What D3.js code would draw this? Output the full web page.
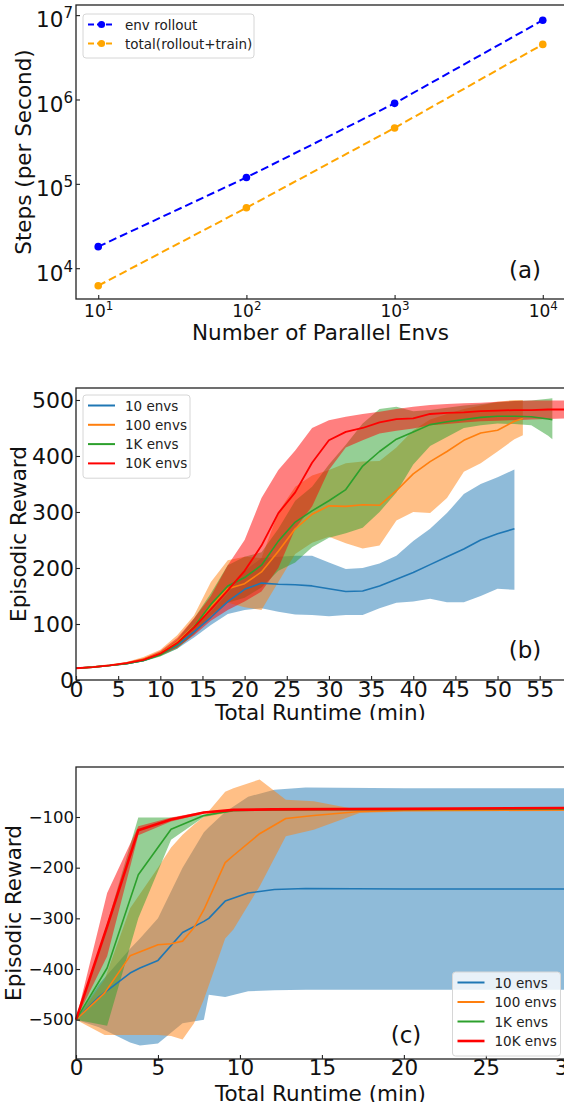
<!DOCTYPE html>
<html>
<head>
<meta charset="utf-8">
<script src="https://cdn.jsdelivr.net/npm/d3@7"></script>
<style>
  body { margin: 0; background: #fff; overflow: hidden; }
  svg { display: block; font-family: "DejaVu Sans", sans-serif; }
</style>
</head>
<body>
<div id="wrapper"></div>
<script>
// ---- data ----
// (a) throughput vs number of envs
const envCounts = [10, 100, 1000, 10000]
const rolloutSps = [1.8e4, 1.19e5, 9.0e5, 8.7e6]
const totalSps = [6.2e3, 5.2e4, 4.6e5, 4.5e6]
const aTicks = [1e1, 1e2, 1e3, 1e4]
const aYTicks = [1e4, 1e5, 1e6, 1e7]

const seriesNames = ["10 envs", "100 envs", "1K envs", "10K envs"]
const seriesColors = ["#1f77b4", "#ff7f0e", "#2ca02c", "#ff0000"]

// (b) rows: [minutes, mean, lower, upper]
const b10 = [
  [0,21,20,22],[2,23,22,24],[4,26,25,27],[6,29,28,31],[8,35,33,38],[10,46,43,50],
  [12,62,56,68],[14,86,76,95],[16,112,98,122],[18,140,118,155],[20,162,125,195],
  [22,173,128,218],[24,171,122,220],[26,170,117,222],[28,168,116,222],[30,163,114,210],
  [32,158,116,198],[34,159,116,200],[36,168,128,208],[38,180,138,222],[40,192,140,248],
  [42,206,145,270],[44,220,139,298],[46,234,139,332],[48,250,150,350],[50,261,163,362],
  [52,270,161,376]
]
const b100 = [
  [0,21,20,22],[2,23,22,25],[4,26,25,28],[6,30,28,32],[8,37,34,41],[10,48,43,54],
  [12,68,58,80],[14,96,82,115],[16,132,110,175],[18,163,138,214],[20,172,130,220],
  [22,193,125,218],[24,230,175,300],[26,270,225,345],[28,296,245,365],[30,311,256,375],
  [32,310,244,387],[34,313,235,390],[36,312,240,391],[38,338,285,415],[40,368,300,446],
  [42,390,298,465],[44,408,325,475],[46,428,372,484],[48,441,387,490],[50,446,408,497],
  [52,462,430,500],[53,467,437,500]
]
const b1k = [
  [0,21,20,22],[2,23,22,24],[4,26,25,27],[6,29,28,31],[8,35,33,38],[10,45,42,50],
  [12,64,56,72],[14,95,82,110],[16,135,115,155],[18,168,138,205],[20,183,147,220],
  [22,205,165,228],[24,248,195,270],[26,282,210,320],[28,302,237,345],[30,320,254,385],
  [32,340,262,420],[34,382,272,458],[36,408,300,484],[38,430,335,488],[40,443,385,480],
  [42,456,418,482],[44,461,434,486],[46,465,450,490],[48,469,455,493],[50,471,458,496],
  [52,471,457,498],[54,470,455,499],[56,466,436,502],[56.5,465,430,503]
]
const b10k = [
  [0,21,20,22],[2,23,22,24],[4,26,25,27],[6,30,28,32],[8,36,34,39],[10,47,44,52],
  [12,66,58,75],[14,94,80,110],[16,126,106,150],[18,160,125,205],[20,195,140,250],
  [22,240,158,325],[24,298,200,375],[26,335,270,410],[28,388,310,450],[30,428,375,464],
  [32,443,415,470],[34,450,428,475],[36,460,440,479],[38,466,445,484],[40,467,449,488],
  [42,475,455,491],[44,477,457,493],[46,478,460,494],[48,480,462,495],[50,481,463,497],
  [52,482,464,498],[54,482,465,499],[56,483,466,499],[58,483,467,499]
]
const bTicksX = [0, 5, 10, 15, 20, 25, 30, 35, 40, 45, 50, 55]
const bTicksY = [0, 100, 200, 300, 400, 500]

// (c) rows: [minutes, mean, lower, upper]
const c10 = [
  [0,-500,-500,-500],[1.4,-455,-515,-430],[3.3,-408,-545,-360],[3.9,-398,-551,-340],
  [5.0,-383,-547,-300],[6.5,-328,-507,-200],[7.8,-306,-500,-130],[8.1,-300,-451,-120],
  [9.1,-266,-455,-90],[10.5,-250,-444,-60],[12.1,-243,-442,-46],[14,-241,-441,-42],
  [20,-242,-441,-43],[25,-242,-441,-43],[30.5,-242,-441,-43]
]
const c100 = [
  [0,-500,-500,-500],[1.75,-447,-530,-420],[3.3,-374,-530,-280],[5.0,-352,-530,-200],
  [5.8,-350,-532,-160],[6.5,-345,-539,-135],[7.2,-318,-507,-115],[7.8,-283,-460,-100],
  [9.1,-190,-340,-50],[9.6,-176,-322,-43],[11.2,-133,-237,-26],[12.8,-103,-138,-66],
  [14.5,-97,-125,-69],[17.3,-89,-92,-86],[20,-87,-89,-85],[30.5,-86,-88,-84]
]
const c1k = [
  [0,-500,-500,-500],[1.9,-398,-512,-310],[3.8,-214,-300,-101],[5.8,-124,-145,-101],
  [7.8,-97,-100,-95],[9.6,-87,-89,-86],[12,-86,-87,-85],[20,-85,-86,-84],[30.5,-84,-85,-83]
]
const c10k = [
  [0,-500,-500,-500],[1.9,-316,-375,-250],[3.8,-126,-136,-118],[5.8,-105,-109,-101],
  [7.8,-91,-93,-89],[9.6,-86,-88,-85],[12,-85,-86,-84],[20,-84,-85,-83],[30.5,-82,-84,-81]
]
const cTicksX = [0, 5, 10, 15, 20, 25, 30]
const cTicksY = [-500, -400, -300, -200, -100]

function drawChart() {
  const svg = d3.select("#wrapper")
    .append("svg")
      .attr("width", 600)
      .attr("height", 1107)

  const defs = svg.append("defs")
  const clip = (id, y0, y1) => {
    defs.append("clipPath").attr("id", id)
      .append("rect").attr("x", 0).attr("y", y0).attr("width", 600).attr("height", y1 - y0)
    return `url(#${id})`
  }

  // shared helpers
  function frame(g, box) {
    g.append("rect")
      .attr("x", box.left).attr("y", box.top)
      .attr("width", box.right - box.left).attr("height", box.bottom - box.top)
      .attr("fill", "none").attr("stroke", "#222").attr("stroke-width", 1.3)
  }

  function styleAxis(ax, size) {
    ax.select(".domain").remove()
    ax.selectAll(".tick line").attr("stroke", "#222").attr("stroke-width", 1.1)
    ax.selectAll("text").attr("font-size", size).attr("fill", "#111")
      .attr("font-family", "DejaVu Sans, sans-serif")
  }

  function axisTitles(g, box, xText, yText, yX, xY) {
    g.append("text")
      .attr("x", (box.left + Math.min(box.right, 565)) / 2).attr("y", xY)
      .attr("text-anchor", "middle").attr("font-size", 21.5).attr("fill", "#111")
      .text(xText)
    g.append("text")
      .attr("transform", `translate(${yX},${(box.top + box.bottom) / 2}) rotate(-90)`)
      .attr("text-anchor", "middle").attr("dominant-baseline", "central")
      .attr("font-size", 21.5).attr("fill", "#111")
      .text(yText)
  }

  function legend(g, x, y, w, rows, rowH, entries) {
    g.append("rect")
      .attr("x", x).attr("y", y).attr("width", w).attr("height", rows * rowH + 6)
      .attr("rx", 3).attr("fill", "#fff").attr("fill-opacity", 0.8)
      .attr("stroke", "#d6d6d6").attr("stroke-width", 1)
    entries.forEach((e, i) => {
      const cy = y + 10.5 + i * rowH
      g.append("line")
        .attr("x1", x + 5).attr("x2", x + 32).attr("y1", cy).attr("y2", cy)
        .attr("stroke", e.color).attr("stroke-width", e.width || 2)
        .attr("stroke-dasharray", e.dash || null)
      if (e.marker) {
        g.append("circle").attr("cx", x + 18.5).attr("cy", cy).attr("r", 3.6).attr("fill", e.color)
      }
      g.append("text")
        .attr("x", x + 42).attr("y", cy).attr("dominant-baseline", "central")
        .attr("font-size", 13.5).attr("fill", "#222")
        .text(e.label)
    })
  }

  // fills first, then all the mean lines on top
  function bandChart(g, xScale, yScale, data, widths) {
    const area = d3.area()
      .x(d => xScale(d[0]))
      .y0(d => yScale(d[2]))
      .y1(d => yScale(d[3]))
    const line = d3.line()
      .x(d => xScale(d[0]))
      .y(d => yScale(d[1]))
    const plot = g.append("g")
    data.forEach((rows, i) => {
      plot.append("path")
        .attr("d", area(rows))
        .attr("fill", seriesColors[i]).attr("fill-opacity", 0.5)
    })
    data.forEach((rows, i) => {
      plot.append("path")
        .attr("d", line(rows))
        .attr("fill", "none").attr("stroke", seriesColors[i])
        .attr("stroke-width", widths[i]).attr("stroke-linejoin", "round")
    })
  }

  // ---- (a) ----
  const gA = svg.append("g").attr("clip-path", clip("clipA", 0, 341))
  const boxA = { left: 76, right: 565, top: 5, bottom: 299 }
  const xA = d3.scaleLog().domain([Math.pow(10, 0.85), Math.pow(10, 4.15)]).range([boxA.left, boxA.right])
  const yA = d3.scaleLog().domain([Math.pow(10, 3.635), Math.pow(10, 7.12)]).range([boxA.bottom, boxA.top])

  const lineA = d3.line().x((d, i) => xA(envCounts[i])).y(d => yA(d))
  const seriesA = [
    { values: rolloutSps, color: "#0000ff", label: "env rollout" },
    { values: totalSps, color: "#ffa500", label: "total(rollout+train)" }
  ]
  seriesA.forEach(s => {
    gA.append("path")
      .attr("d", lineA(s.values))
      .attr("fill", "none").attr("stroke", s.color).attr("stroke-width", 2)
      .attr("stroke-dasharray", "8,4")
    gA.selectAll(null).data(s.values).enter().append("circle")
      .attr("cx", (d, i) => xA(envCounts[i]))
      .attr("cy", d => yA(d))
      .attr("r", 3.8)
      .attr("fill", s.color)
  })

  const supLabels = (ax, size) => {
    ax.selectAll(".tick text").each(function(d) {
      const t = d3.select(this).text(null)
      t.append("tspan").text("10")
      t.append("tspan").attr("font-size", size * 0.7).attr("dy", -size * 0.42)
        .text(Math.round(Math.log10(d)))
    })
  }

  const xAxA = gA.append("g")
    .attr("transform", `translate(0,${boxA.bottom})`)
    .call(d3.axisBottom(xA).tickValues(aTicks).tickSizeInner(-4).tickSizeOuter(0).tickPadding(6))
  styleAxis(xAxA, 17)
  supLabels(xAxA, 17)

  const yAxA = gA.append("g")
    .attr("transform", `translate(${boxA.left},0)`)
    .call(d3.axisLeft(yA).tickValues(aYTicks).tickSizeInner(-4).tickSizeOuter(0).tickPadding(3))
  styleAxis(yAxA, 21.5)
  supLabels(yAxA, 21.5)
  yAxA.selectAll(".tick text").attr("dy", "0.55em")

  frame(gA, boxA)
  legend(gA, 83, 14, 171, 2, 19, seriesA.map(s => ({ color: s.color, label: s.label, dash: "6,3", marker: true })))
  gA.append("text").attr("x", 525).attr("y", 270).attr("text-anchor", "middle")
    .attr("dominant-baseline", "central").attr("font-size", 23).attr("fill", "#111").text("(a)")
  axisTitles(gA, boxA, "Number of Parallel Envs", "Steps (per Second)", 23, 340)

  // ---- (b) ----
  const gB = svg.append("g").attr("clip-path", clip("clipB", 370, 720))
  const boxB = { left: 76, right: 565, top: 388, bottom: 680 }
  const xB = d3.scaleLinear().domain([0, 58]).range([boxB.left, boxB.right])
  const yB = d3.scaleLinear().domain([0, 521.4]).range([boxB.bottom, boxB.top])

  bandChart(gB, xB, yB, [b10, b100, b1k, b10k], [1.6, 1.6, 1.6, 1.8])

  const xAxB = gB.append("g")
    .attr("transform", `translate(0,${boxB.bottom})`)
    .call(d3.axisBottom(xB).tickValues(bTicksX).tickSizeInner(-4).tickSizeOuter(0).tickPadding(1))
  styleAxis(xAxB, 22)
  const yAxB = gB.append("g")
    .attr("transform", `translate(${boxB.left},0)`)
    .call(d3.axisLeft(yB).tickValues(bTicksY).tickSizeInner(-4).tickSizeOuter(0).tickPadding(2))
  styleAxis(yAxB, 22)

  frame(gB, boxB)
  legend(gB, 83, 395, 107, 4, 19.3, seriesNames.map((n, i) => ({ color: seriesColors[i], label: n, width: 2 })))
  gB.append("text").attr("x", 525).attr("y", 650).attr("text-anchor", "middle")
    .attr("dominant-baseline", "central").attr("font-size", 23).attr("fill", "#111").text("(b)")
  axisTitles(gB, boxB, "Total Runtime (min)", "Episodic Reward", 18, 720)

  // ---- (c) ----
  const gC = svg.append("g").attr("clip-path", clip("clipC", 740, 1102))
  const boxC = { left: 76, right: 576, top: 767, bottom: 1059 }
  const xC = d3.scaleLinear().domain([0, 30.5]).range([boxC.left, boxC.right])
  const yC = d3.scaleLinear().domain([-577.6, -1.3]).range([boxC.bottom, boxC.top])

  bandChart(gC, xC, yC, [c10, c100, c1k, c10k], [1.6, 1.6, 1.6, 2.6])

  const xAxC = gC.append("g")
    .attr("transform", `translate(0,${boxC.bottom})`)
    .call(d3.axisBottom(xC).tickValues(cTicksX).tickSizeInner(-4).tickSizeOuter(0).tickPadding(1))
  styleAxis(xAxC, 21.5)
  const yAxC = gC.append("g")
    .attr("transform", `translate(${boxC.left},0)`)
    .call(d3.axisLeft(yC).tickValues(cTicksY).tickSizeInner(-4).tickSizeOuter(0).tickPadding(2))
  styleAxis(yAxC, 16.5)

  frame(gC, boxC)
  legend(gC, 452.5, 972, 108, 4, 19.5, seriesNames.map((n, i) => ({ color: seriesColors[i], label: n, width: i == 3 ? 2.6 : 2 })))
  gC.append("text").attr("x", 406).attr("y", 1035).attr("text-anchor", "middle")
    .attr("dominant-baseline", "central").attr("font-size", 23).attr("fill", "#111").text("(c)")
  axisTitles(gC, boxC, "Total Runtime (min)", "Episodic Reward", 13, 1101)
}

drawChart()
</script>
</body>
</html>
